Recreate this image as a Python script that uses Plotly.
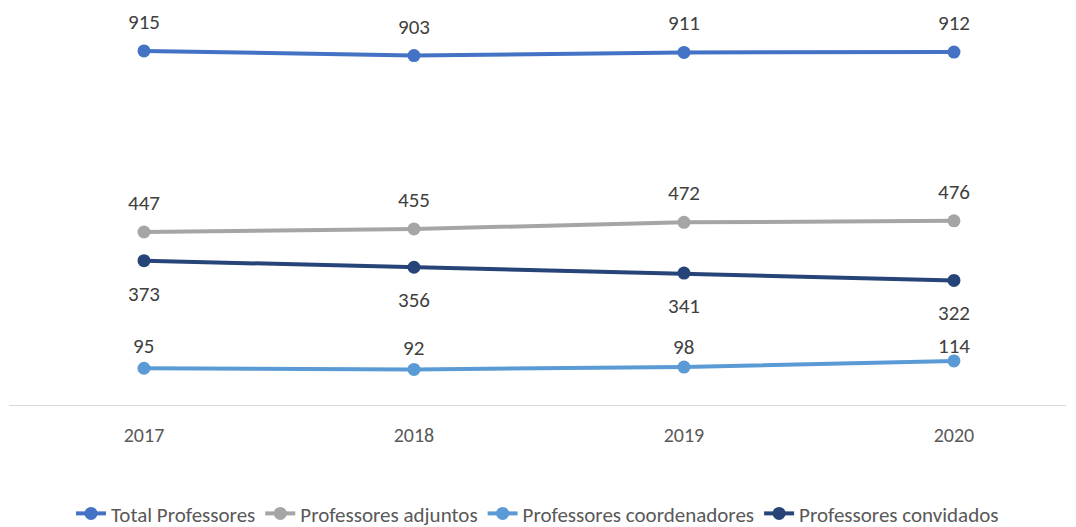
import plotly.graph_objects as go

years = ["2017", "2018", "2019", "2020"]
total = [915, 903, 911, 912]
adjuntos = [447, 455, 472, 476]
coordenadores = [95, 92, 98, 114]
convidados = [373, 356, 341, 322]

series = [
    ("Total Professores", total, "#4472C4", [29, 29, 29, 29]),
    ("Professores adjuntos", adjuntos, "#A5A5A5", [29, 29, 29, 29]),
    ("Professores coordenadores", coordenadores, "#5B9BD5", [22, 21, 20, 15]),
    ("Professores convidados", convidados, "#264478", [-33, -33, -33, -33]),
]

FONT = "Carlito, Calibri, Lato, sans-serif"
xs = list(range(len(years)))

fig = go.Figure()
annotations = []
for name, vals, color, shifts in series:
    fig.add_trace(go.Scatter(
        x=xs, y=vals, name=name, mode="lines+markers",
        line=dict(color=color, width=4),
        marker=dict(color=color, size=13),
    ))
    for xi, v, s in zip(xs, vals, shifts):
        annotations.append(dict(
            x=xi, y=v, text=str(v), showarrow=False, yshift=s,
            font=dict(size=21, color="#404040", family=FONT),
        ))

fig.update_layout(
    width=1068, height=519,
    margin=dict(l=1, r=10, t=10, b=122, autoexpand=False),
    paper_bgcolor="white", plot_bgcolor="white",
    font=dict(family=FONT, color="#595959", size=20),
    annotations=annotations,
    showlegend=True,
    legend=dict(orientation="h", x=0.5, xanchor="center", y=-0.228, yanchor="top",
                font=dict(size=21, color="#595959", family=FONT),
                itemwidth=30, tracegroupgap=0),
    xaxis=dict(range=[-0.5, 3.415], tickmode="array", tickvals=xs, ticktext=years,
               showgrid=False, zeroline=False, showline=True, linecolor="#D9D9D9",
               linewidth=1, ticks="", tickfont=dict(size=20, color="#595959"),
               ticklabelstandoff=12),
    yaxis=dict(range=[0, 1000], visible=False, showgrid=False, zeroline=False),
)

fig.write_html("out.html")
